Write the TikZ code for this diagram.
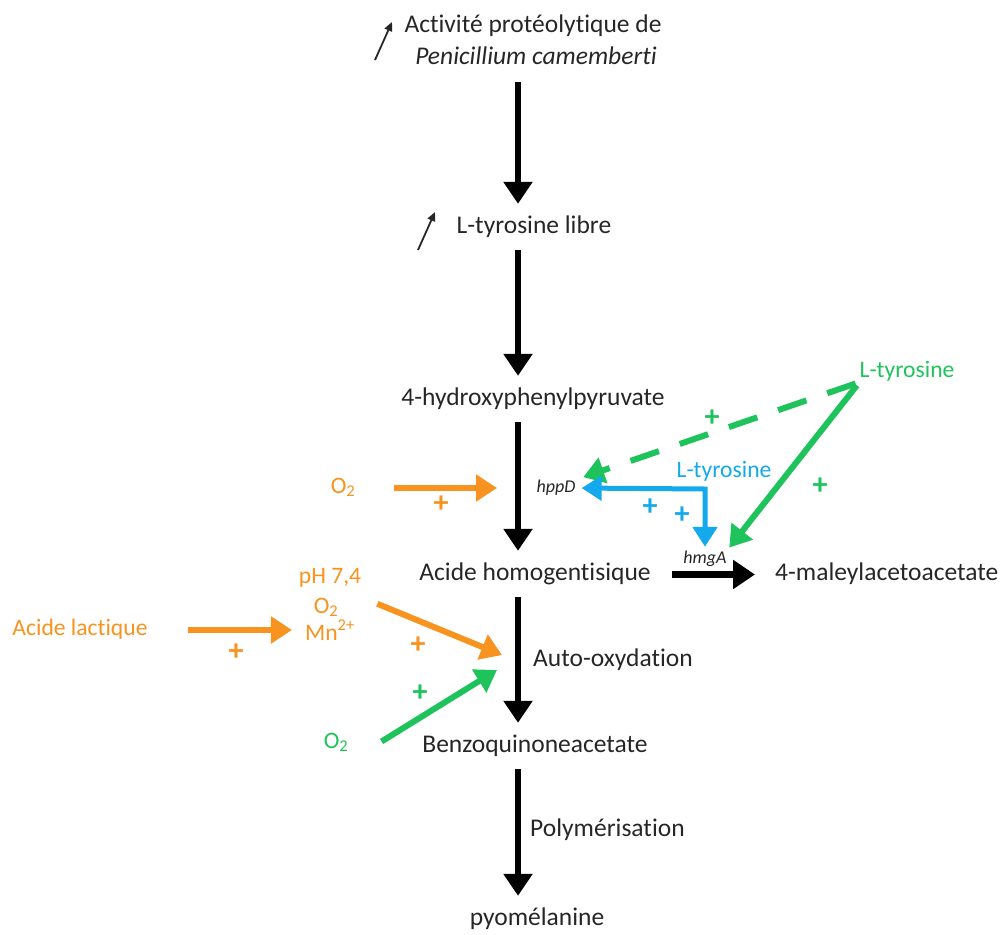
\documentclass[tikz,border=0pt]{standalone}
\usepackage{fontspec}
\setmainfont[RawFeature=-liga,RawFeature=-calt,RawFeature=-dlig]{Carlito}
\usepackage{xcolor}
\usetikzlibrary{arrows.meta,calc}
\definecolor{inkdark}{HTML}{262626}
\definecolor{orng}{HTML}{F7931E}
\definecolor{grn}{HTML}{1FC35B}
\definecolor{blu}{HTML}{13A9EC}
\tikzset{
  mainlbl/.style={inner sep=0pt,text height=17pt,text depth=6pt,text=inkdark,
                  font=\fontsize{25.5}{30}\selectfont},
  sidelbl/.style={inner sep=0pt,text height=15pt,text depth=5pt,
                  font=\fontsize{23.6}{28}\selectfont},
  genelbl/.style={inner sep=0pt,text height=12pt,text depth=4pt,text=inkdark,
                  font=\fontsize{18}{20}\selectfont\itshape},
  plussign/.style={inner sep=0pt,font=\fontsize{30}{32}\selectfont\bfseries},
  blkarr/.style={-{Triangle[length=22pt,width=28pt]},line width=6.5pt,
                 draw=black,shorten <=11pt,shorten >=12pt},
  orgarr/.style={-{Triangle[length=21pt,width=26pt]},line width=6pt,draw=orng},
  grnarr/.style={-{Triangle[length=21pt,width=26pt]},line width=6pt,draw=grn},
  bluarr/.style={{Triangle[length=20pt,width=24pt]}-{Triangle[length=20pt,width=24pt]},
                 line width=5pt,draw=blu,line join=miter},
  thinarr/.style={-{Triangle[length=9pt,width=8pt]},line width=1.8pt,draw=inkdark}
}
\begin{document}
\begin{tikzpicture}[x=1pt,y=-1pt]
  \useasboundingbox (0,0) rectangle (1006,934);
  \coordinate (axis) at (518,0);
  % main pathway
  \node[mainlbl,anchor=base] (act1) at (533,33) {Activité protéolytique de};
  \node[mainlbl,anchor=base] (act2) at (536,65) {\itshape Penicillium camemberti};
  \node[mainlbl,anchor=base] (tyrlib) at (534,233) {L-tyrosine libre};
  \node[mainlbl,anchor=base] (hpp) at (533,405) {4-hydroxyphenylpyruvate};
  \node[mainlbl,anchor=base] (hga) at (535,580) {Acide homogentisique};
  \node[mainlbl,anchor=base] (bqa) at (535,752) {Benzoquinoneacetate};
  \node[mainlbl,anchor=base] (pyo) at (537,925) {pyomélanine};
  \node[mainlbl,anchor=base west] (mal) at (775,580) {4-maleylacetoacetate};
  \node[mainlbl,anchor=base west] (autolbl) at (533,666) {Auto-oxydation};
  \node[mainlbl,anchor=base west] (polym) at (530,836) {Polymérisation};
  \draw[blkarr] (act2.south -| axis) -- (tyrlib.north -| axis);
  \draw[blkarr] (tyrlib.south -| axis) -- (hpp.north -| axis);
  \draw[blkarr] (hpp.south -| axis) -- (hga.north -| axis);
  \draw[blkarr] (hga.south -| axis) -- (bqa.north -| axis);
  \draw[blkarr] (bqa.south -| axis) -- (pyo.north -| axis);
  \draw[blkarr,shorten <=21pt,shorten >=20pt] (hga.east) -- (mal.west);
  % increase marks
  \draw[thinarr] (375,60) -- (392,22);
  \draw[thinarr] (418,250) -- (435,212);
  % genes
  \node[genelbl,anchor=base] (hppd) at (556,492) {hppD};
  \node[genelbl,anchor=base] (hmga) at (705,563) {hmgA};
  % orange effectors
  \node[sidelbl,text=orng,anchor=base] (o2a) at (343,493) {O\textsubscript{2}};
  \node[sidelbl,text=orng,anchor=base] (ph) at (330,583) {pH 7,4};
  \node[sidelbl,text=orng,anchor=base] (o2b) at (326,613) {O\textsubscript{2}};
  \node[sidelbl,text=orng,anchor=base] (mn) at (330,640) {Mn\textsuperscript{2+}};
  \node[sidelbl,text=orng,anchor=base] (lact) at (80,635) {Acide lactique};
  \coordinate (hit1) at (497,488);
  \coordinate (hit2) at (502,655);
  \draw[orgarr,shorten <=39pt] (o2a.east) -- (hit1);
  \draw[orgarr,shorten <=40pt,shorten >=13pt] (lact.east) -- (lact.east -| mn.west);
  \draw[orgarr,shorten <=42pt] ([yshift=10pt]o2b.north east) -- (hit2);
  \node[plussign,text=orng] (p1) at (441,504) {+};
  \node[plussign,text=orng] (p2) at (236,652) {+};
  \node[plussign,text=orng] (p3) at (418,645) {+};
  % green effectors
  \node[sidelbl,text=grn,anchor=base] (o2g) at (336,748) {O\textsubscript{2}};
  \node[sidelbl,text=grn,anchor=base] (tyrg) at (907,377) {L-tyrosine};
  \coordinate (hit3) at (497,670);
  \draw[grnarr,shorten <=39pt] ([yshift=-19pt]o2g.east) -- (hit3);
  \draw[grnarr,dash pattern=on 30pt off 22pt,shorten <=4pt,shorten >=8pt]
    (tyrg.south west) -- (hppd.north east);
  \draw[grnarr,shorten <=4pt,shorten >=4pt] (tyrg.south west) -- (hmga.north east);
  \node[plussign,text=grn] (p4) at (420,693) {+};
  \node[plussign,text=grn] (p5) at (712,418) {+};
  \node[plussign,text=grn] (p6) at (820,486) {+};
  % blue effector
  \node[sidelbl,text=blu,anchor=base] (tyrb) at (724,477) {L-tyrosine};
  \coordinate (bc) at (705,489);
  \draw[bluarr,shorten <=6pt,shorten >=4pt] (hppd.east) -- (bc) -- (hmga.north);
  \node[plussign,text=blu] (p7) at (650,507) {+};
  \node[plussign,text=blu] (p8) at (682,515) {+};
\end{tikzpicture}
\end{document}
